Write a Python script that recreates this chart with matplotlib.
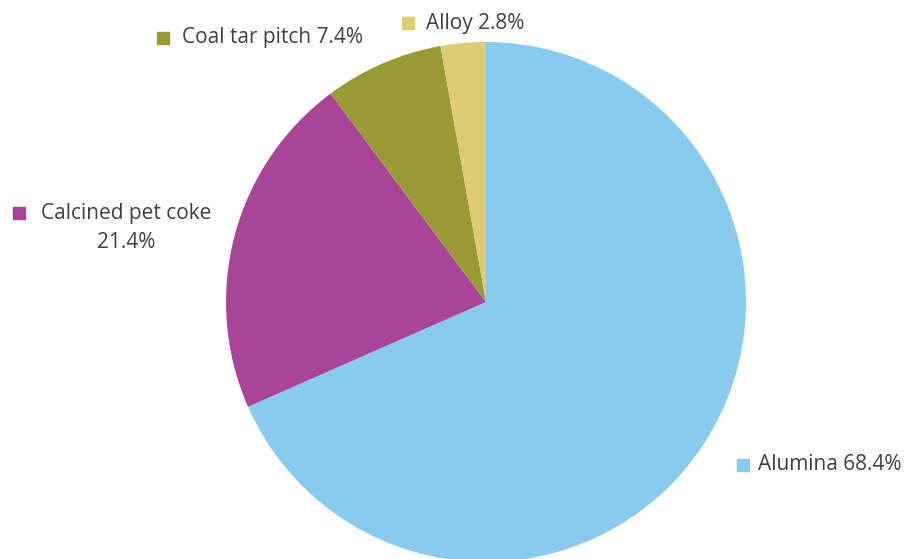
import matplotlib.pyplot as plt

labels = ['Alumina', 'Calcined pet coke', 'Coal tar pitch', 'Alloy']
shares = [68.4, 21.4, 7.4, 2.8]
colors = ['#89CBEE', '#A84598', '#9A9A35', '#E0CB75']

W, H = 908, 559
fig = plt.figure(figsize=(W / 100, H / 100), dpi=100)
ax = fig.add_axes([0, 0, 1, 1])

ax.pie(shares, colors=colors, startangle=90, counterclock=False,
       center=(486, H - 302), radius=260, frame=True,
       wedgeprops={'linewidth': 0})
ax.set_xlim(0, W)
ax.set_ylim(0, H)
ax.set_aspect('equal')
ax.axis('off')

# label placement (pixel coords from top-left): square x, text x, y, align
place = [
    (743, 758, 465, 'left'),
    (19, 126, 213, 'center'),
    (163, 182, 38, 'left'),
    (408, 426, 23, 'left'),
]
txt_color = '#404040'
font = dict(fontsize=15, family='Open Sans', color=txt_color)
for (sx, tx, y, ha), lab, val, c in zip(place, labels, shares, colors):
    ax.scatter([sx], [H - y], marker='s', s=70, color=c, zorder=5)
    if ha == 'center':
        ax.text(tx, H - y, lab, ha='center', va='center', **font)
        ax.text(tx, H - y - 29, f'{val}%', ha='center', va='center', **font)
    else:
        ax.text(tx, H - y, f'{lab} {val}%', ha='left', va='center', **font)

fig.savefig('out.png', dpi=100)
